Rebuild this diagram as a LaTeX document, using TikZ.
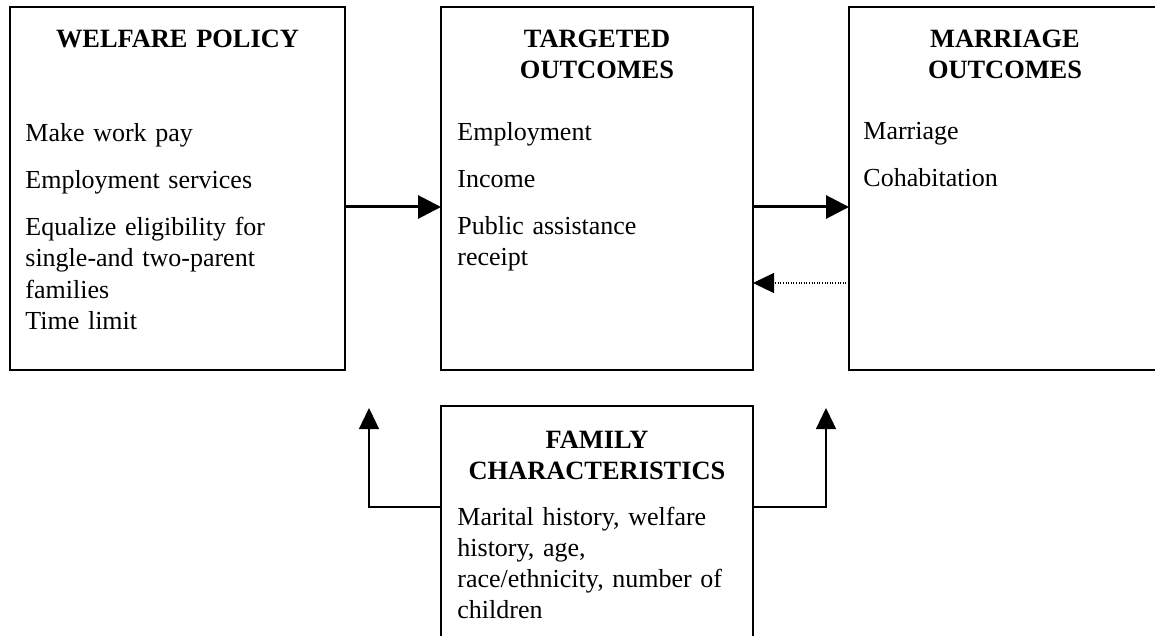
\documentclass[tikz,border=0pt]{standalone}
\usepackage{fontspec}
\setmainfont{Liberation Serif}
\usetikzlibrary{arrows.meta,positioning}

\begin{document}
\begin{tikzpicture}[
    x=0.5pt, y=-0.5pt,
    node distance=18pt and 48pt,
    font=\fontsize{13pt}{15.5pt}\selectfont,
    box/.style={draw, line width=1.1pt, inner sep=0pt, outer sep=0pt, minimum width=156pt, minimum height=181.5pt},
    headtext/.style={font=\fontsize{13.2pt}{15.5pt}\selectfont\bfseries, align=center, text width=150pt, inner sep=0pt, anchor=base},
    bodytext/.style={align=left, text width=150pt, inner sep=0pt, anchor=base west},
    arrow/.style={-{Triangle[length=11.5pt, width=11.5pt]}, line width=1.5pt},
    thinarrow/.style={-{Triangle[length=10.5pt, width=10pt]}, line width=0.65pt},
    backarrow/.style={-{Triangle[length=10.5pt, width=10pt]}, line width=0.6pt, dash pattern=on 0.5pt off 0.8pt}
]
\useasboundingbox (0,0) rectangle (1155,636);

\node[box, minimum width=167.5pt] (welfare) at (177.5,188.5) {};
\node[box, right=of welfare] (targeted) {};
\node[box, right=of targeted] (marriage) {};
\node[box, below=of targeted, minimum height=135pt] (family) {};

\node[headtext] (welfaretitle) at ([yshift=-20.5pt]welfare.north) {WELFARE POLICY};
\node[headtext] (targetedtitle) at ([yshift=-20.5pt]targeted.north) {TARGETED\\ OUTCOMES};
\node[headtext] (marriagetitle) at ([yshift=-20.5pt]marriage.north) {MARRIAGE\\ OUTCOMES};
\node[headtext] (familytitle) at ([yshift=-21pt]family.north) {FAMILY\\ CHARACTERISTICS};

\node[bodytext] (welfarelist) at ([xshift=7.5pt, yshift=-67.5pt]welfare.north west) {Make work pay\\[8pt] Employment services\\[8pt] Equalize eligibility for\\ single-and two-parent\\ families\\ Time limit};
\node[bodytext] (targetedlist) at ([xshift=8pt, yshift=-67pt]targeted.north west) {Employment\\[8pt] Income\\[8pt] Public assistance\\ receipt};
\node[bodytext] (marriagelist) at ([xshift=7pt, yshift=-66.5pt]marriage.north west) {Marriage\\[8pt] Cohabitation};
\node[bodytext] (familylist) at ([xshift=8pt, yshift=-59.5pt]family.north west) {Marital history, welfare\\ history, age,\\ race/ethnicity, number of\\ children};

\coordinate (leftturn) at ([xshift=-36pt, yshift=-50.5pt]family.north west);
\coordinate (lefttip) at ([xshift=-36pt, yshift=-1pt]family.north west);
\coordinate (rightturn) at ([xshift=36.5pt, yshift=-50.5pt]family.north east);
\coordinate (righttip) at ([xshift=36.5pt, yshift=-1pt]family.north east);

\draw[arrow] ([yshift=-9.25pt]welfare.east) -- ([yshift=-9.25pt]targeted.west);
\draw[arrow] ([yshift=-9.25pt]targeted.east) -- ([yshift=-9.25pt]marriage.west);
\draw[backarrow] ([yshift=-47.25pt]marriage.west) -- ([yshift=-47.25pt]targeted.east);
\draw[thinarrow] ([yshift=-50.5pt]family.north west) -- (leftturn) -- (lefttip);
\draw[thinarrow] ([yshift=-50.5pt]family.north east) -- (rightturn) -- (righttip);
\end{tikzpicture}
\end{document}
